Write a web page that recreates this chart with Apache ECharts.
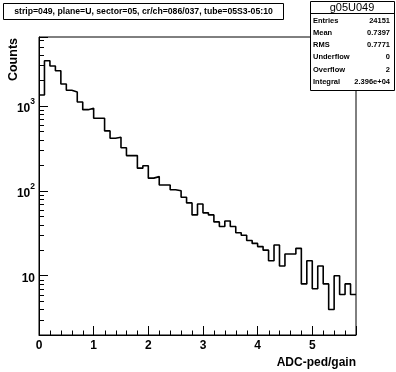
<!DOCTYPE html>
<html><head><meta charset="utf-8">
<script src="https://cdn.jsdelivr.net/npm/echarts@6/dist/echarts.min.js"></script>
<style>html,body{margin:0;padding:0;background:#fff}#c{width:396px;height:372px}</style>
</head><body><div id="c"></div>
<script>
const titleText = 'strip=049, plane=U, sector=05, cr/ch=086/037, tube=05S3-05:10';
const histName = 'g05U049';
const statLabels = ['Entries', 'Mean', 'RMS', 'Underflow', 'Overflow', 'Integral'];
const statValues = ['24151', '0.7397', '0.7771', '0', '2', '2.396e+04'];
const xTitle = 'ADC-ped/gain';
const yTitle = 'Counts';
const binLow = 0;
const binWidth = 0.1;
const counts = [1346, 3414, 2952, 2600, 1814, 1530, 1462, 1114, 904, 939,
                717, 717, 508, 417, 428, 321, 260, 260, 185, 197,
                141, 147, 117, 117, 103, 100, 84, 72, 52, 70,
                55, 52, 43, 38, 44, 38, 32, 30, 26, 24,
                22, 20, 15, 23, 13, 18, 18, 21, 8, 15,
                7, 13, 8, 4, 10, 6, 8, 6];
const xMin = 0, xMax = 5.8, xMajor = 1, xMinorDiv = 5;
const yMin = 2, yMax = 6490;
const xTickLabels = ['0', '1', '2', '3', '4', '5'];

const FONT = '"Liberation Sans", Arial, Helvetica, sans-serif';

// step outline points at bin edges
const stepData = counts.map((c, i) => [binLow + i * binWidth, c]);
stepData.push([binLow + counts.length * binWidth, counts[counts.length - 1]]);

// minor tick positions
const yMinor = [];
for (let e = 0; e <= 3; e++) for (let m = 2; m <= 9; m++) {
  const v = m * Math.pow(10, e);
  if (v > yMin && v < yMax) yMinor.push([xMin, v]);
}
const xMinor = [];
for (let k = 0; k * xMajor / xMinorDiv < xMax; k++) {
  if (k % xMinorDiv !== 0) xMinor.push([k * xMajor / xMinorDiv, yMin]);
}

const chart = echarts.init(document.getElementById('c'), null, {renderer: 'canvas'});

const statTexts = [];
statLabels.forEach((l, i) => {
  const y = 20.5 + i * 12.3;
  statTexts.push({type: 'text', z: 12, style: {text: l, x: 313, y: y, font: 'bold 7.5px ' + FONT, fill: '#000', verticalAlign: 'middle'}});
  statTexts.push({type: 'text', z: 12, style: {text: statValues[i], x: 390, y: y, font: 'bold 7.5px ' + FONT, fill: '#000', align: 'right', verticalAlign: 'middle'}});
});

chart.setOption({
  animation: false,
  backgroundColor: '#fff',
  grid: {left: 39, right: 40, top: 37, bottom: 37, show: true, borderColor: '#000', borderWidth: 1, backgroundColor: 'transparent'},
  xAxis: {
    type: 'value', min: xMin, max: xMax, interval: xMajor,
    axisLine: {show: true, lineStyle: {color: '#000', width: 1}},
    axisTick: {show: true, inside: true, length: 9, lineStyle: {color: '#000', width: 1}},
    splitLine: {show: false},
    axisLabel: {
      margin: 5, color: '#000', fontSize: 12, fontWeight: 'bold', fontFamily: FONT,
      formatter: v => { const i = Math.round(v); return Math.abs(v - i) < 1e-9 && xTickLabels[i] !== undefined ? xTickLabels[i] : ''; }
    }
  },
  yAxis: {
    type: 'log', logBase: 10, min: yMin, max: yMax,
    axisLine: {show: true, lineStyle: {color: '#000', width: 1}},
    axisTick: {show: true, inside: true, length: 9, lineStyle: {color: '#000', width: 1}},
    splitLine: {show: false},
    minorTick: {show: false},
    axisLabel: {
      margin: 4, color: '#000', fontFamily: FONT,
      formatter: v => {
        const e = Math.log10(v), r = Math.round(e);
        if (Math.abs(e - r) > 1e-6 || r < 1) return '';
        return r === 1 ? '{b|10}' : '{b|10}{s|' + r + '}';
      },
      rich: {
        b: {fontSize: 12, fontWeight: 'bold', fontFamily: FONT, color: '#000', verticalAlign: 'bottom', lineHeight: 18},
        s: {fontSize: 8.5, fontWeight: 'bold', fontFamily: FONT, color: '#000', verticalAlign: 'top', lineHeight: 18}
      }
    }
  },
  series: [
    {
      type: 'line', data: stepData, step: 'end', symbol: 'none', clip: true,
      lineStyle: {color: '#000', width: 1.6}, z: 3
    },
    {
      type: 'custom', data: yMinor, clip: false, z: 4,
      renderItem: (params, api) => {
        const p = api.coord([api.value(0), api.value(1)]);
        const y = Math.round(p[1]) + 0.5;
        return {type: 'line', shape: {x1: p[0], y1: y, x2: p[0] + 5, y2: y}, style: {stroke: '#000', lineWidth: 1}};
      }
    },
    {
      type: 'custom', data: xMinor, clip: false, z: 4,
      renderItem: (params, api) => {
        const p = api.coord([api.value(0), api.value(1)]);
        const x = Math.round(p[0]) + 0.5;
        return {type: 'line', shape: {x1: x, y1: p[1], x2: x, y2: p[1] - 4.5}, style: {stroke: '#000', lineWidth: 1}};
      }
    }
  ],
  graphic: [
    {type: 'rect', shape: {x: 3.5, y: 3.5, width: 280, height: 16}, style: {fill: '#fff', stroke: '#000', lineWidth: 1}, z: 10},
    {type: 'text', style: {text: titleText, x: 143.5, y: 11.5, font: 'bold 8.7px ' + FONT, fill: '#000', align: 'center', verticalAlign: 'middle'}, z: 11},
    {type: 'rect', shape: {x: 310.5, y: 1.5, width: 84, height: 89}, style: {fill: '#fff', stroke: '#000', lineWidth: 1}, z: 10},
    {type: 'line', shape: {x1: 310.5, y1: 13.5, x2: 394.5, y2: 13.5}, style: {stroke: '#000', lineWidth: 1}, z: 11},
    {type: 'text', style: {text: histName, x: 352, y: 7.8, font: '11px ' + FONT, fill: '#000', align: 'center', verticalAlign: 'middle'}, z: 11},
    ...statTexts,
    {type: 'text', style: {text: xTitle, x: 356, y: 363, font: 'bold 12px ' + FONT, fill: '#000', align: 'right', verticalAlign: 'middle'}, z: 11},
    {type: 'text', rotation: Math.PI / 2, x: 14, y: 38, style: {text: yTitle, x: 0, y: 0, font: 'bold 12.5px ' + FONT, fill: '#000', align: 'right', verticalAlign: 'middle'}, z: 11}
  ]
});
</script>
</body></html>
